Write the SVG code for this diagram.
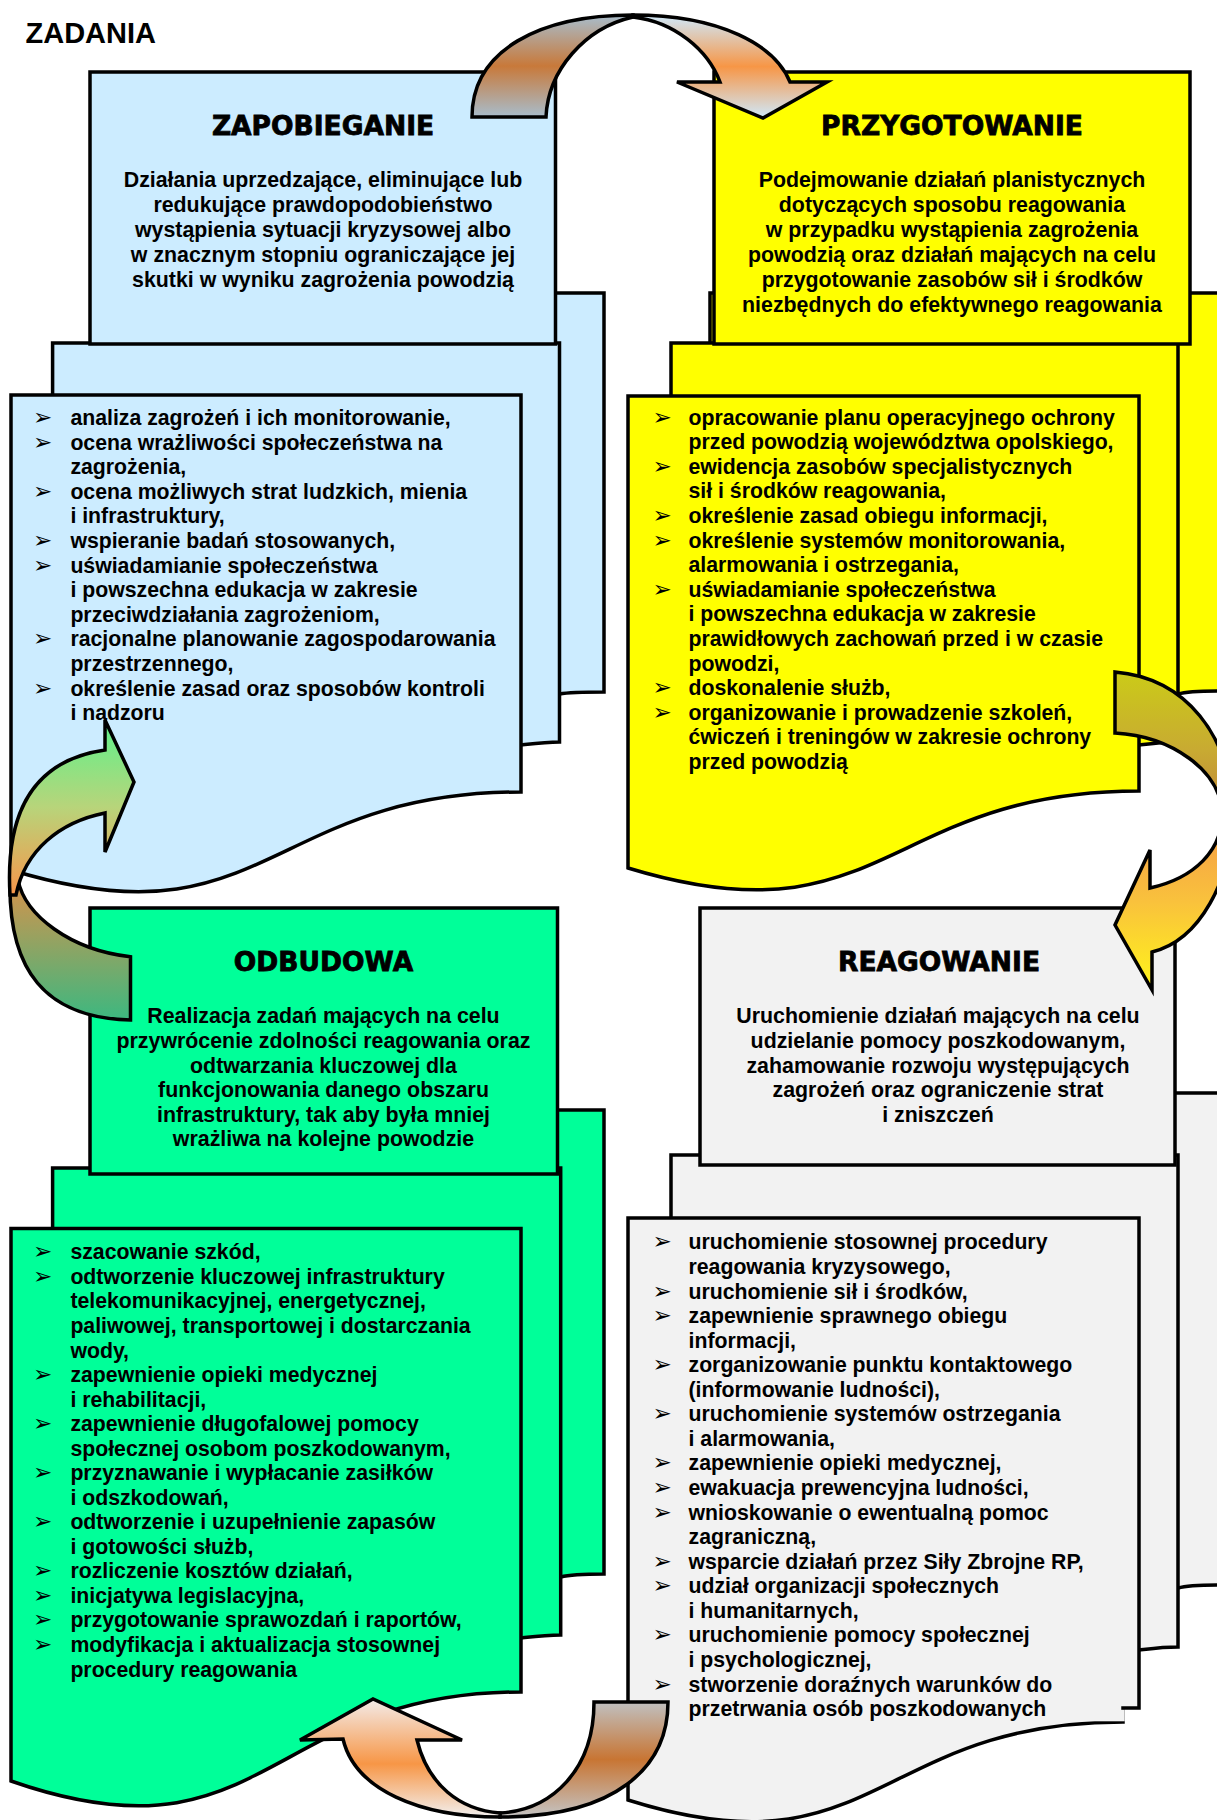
<svg xmlns="http://www.w3.org/2000/svg" width="1217" height="1820" viewBox="0 0 1217 1820">
<defs>
<style>
.pg{stroke:#000;stroke-width:3.5;stroke-linejoin:miter}
.blue{fill:#ccecff}.yel{fill:#ffff00}.grn{fill:#00ff99}.gry{fill:#f2f2f2}
.arr{stroke:#000;stroke-width:3.5;stroke-linejoin:miter}
.ttl{font-family:"DejaVu Sans",Verdana,sans-serif;font-weight:bold;font-size:26.5px;text-anchor:middle;fill:#000;stroke:#000;stroke-width:0.8px}
.dsc{font-family:"Liberation Sans",Arial,sans-serif;font-weight:bold;font-size:21.35px;text-anchor:middle;fill:#000}
.li{font-family:"Liberation Sans",Arial,sans-serif;font-weight:bold;font-size:21.25px;fill:#000}
.bul{font-family:"DejaVu Sans",sans-serif;font-size:23px;fill:#000}
.hd{font-family:"Liberation Sans",Arial,sans-serif;font-weight:bold;font-size:29px;fill:#000}
</style>
<linearGradient id="gTopL" x1="0" y1="0" x2="0" y2="1"><stop offset="0" stop-color="#a8bdcc"/><stop offset="0.5" stop-color="#c8793a"/><stop offset="1" stop-color="#a8bdcc"/></linearGradient>
<linearGradient id="gTopR" x1="0" y1="0" x2="0" y2="1"><stop offset="0" stop-color="#cfe9fb"/><stop offset="0.5" stop-color="#f79646"/><stop offset="1" stop-color="#cfe9fb"/></linearGradient>
<linearGradient id="gRU" x1="0" y1="0" x2="0" y2="1"><stop offset="0" stop-color="#cbcb18"/><stop offset="0.55" stop-color="#c8aa32"/><stop offset="1" stop-color="#c0843c"/></linearGradient>
<linearGradient id="gRL" x1="0" y1="0" x2="0" y2="1"><stop offset="0" stop-color="#f59a48"/><stop offset="0.5" stop-color="#f9c23c"/><stop offset="1" stop-color="#fff51a"/></linearGradient>
<linearGradient id="gBL" x1="0" y1="0" x2="0" y2="1"><stop offset="0" stop-color="#f3ebe9"/><stop offset="0.55" stop-color="#f79646"/><stop offset="1" stop-color="#f2f0ef"/></linearGradient>
<linearGradient id="gBR" x1="0" y1="0" x2="0" y2="1"><stop offset="0" stop-color="#c0c0c0"/><stop offset="0.5" stop-color="#c87533"/><stop offset="1" stop-color="#c4c4c4"/></linearGradient>
<linearGradient id="gLU" x1="0" y1="0" x2="0" y2="1"><stop offset="0" stop-color="#5df28c"/><stop offset="0.5" stop-color="#b8d47a"/><stop offset="1" stop-color="#f7964a"/></linearGradient>
<linearGradient id="gLL" x1="0" y1="0" x2="0" y2="1"><stop offset="0" stop-color="#d8924a"/><stop offset="1" stop-color="#3cb880"/></linearGradient>
</defs>
<rect width="1217" height="1820" fill="#fff"/>
<text class="hd" x="25.5" y="43">ZADANIA</text>

<g id="zapobieganie">
<path class="pg blue" d="M93,293 H604 V692 C585,692 565,693 559.5,694 H93 Z"/>
<path class="pg blue" d="M52.6,343 H559.5 V742 C545,742 530,744 521,745 H52.6 Z"/>
<path class="pg blue" d="M11,395 H521 V792 C266,792 266,948 11,870 Z"/>
<rect class="pg blue" x="90" y="72" width="465.5" height="272"/>
<text class="ttl" x="323" y="135">ZAPOBIEGANIE</text>
<text class="dsc"><tspan x="323" y="186.7">Działania uprzedzające, eliminujące lub</tspan><tspan x="323" y="211.7">redukujące prawdopodobieństwo</tspan><tspan x="323" y="236.7">wystąpienia sytuacji kryzysowej albo</tspan><tspan x="323" y="261.7">w znacznym stopniu ograniczające jej</tspan><tspan x="323" y="286.7">skutki w wyniku zagrożenia powodzią</tspan></text>
<text class="bul"><tspan x="33" y="425">➢</tspan><tspan x="33" y="449.6">➢</tspan><tspan x="33" y="498.8">➢</tspan><tspan x="33" y="548">➢</tspan><tspan x="33" y="572.6">➢</tspan><tspan x="33" y="646.4">➢</tspan><tspan x="33" y="695.6">➢</tspan></text>
<text class="li"><tspan x="70.4" y="425">analiza zagrożeń i ich monitorowanie,</tspan><tspan x="70.4" y="449.6">ocena wrażliwości społeczeństwa na</tspan><tspan x="70.4" y="474.2">zagrożenia,</tspan><tspan x="70.4" y="498.8">ocena możliwych strat ludzkich, mienia</tspan><tspan x="70.4" y="523.4">i infrastruktury,</tspan><tspan x="70.4" y="548">wspieranie badań stosowanych,</tspan><tspan x="70.4" y="572.6">uświadamianie społeczeństwa</tspan><tspan x="70.4" y="597.2">i powszechna edukacja w zakresie</tspan><tspan x="70.4" y="621.8">przeciwdziałania zagrożeniom,</tspan><tspan x="70.4" y="646.4">racjonalne planowanie zagospodarowania</tspan><tspan x="70.4" y="671">przestrzennego,</tspan><tspan x="70.4" y="695.6">określenie zasad oraz sposobów kontroli</tspan><tspan x="70.4" y="720.2">i nadzoru</tspan></text>
</g>

<g id="przygotowanie">
<path class="pg yel" d="M710,293 H1221 V691 C1200,691 1185,692 1178,694 H710 Z"/>
<path class="pg yel" d="M671,343 H1178 V742 C1162,742 1148,744 1139,745 H671 Z"/>
<path class="pg yel" d="M628,396 H1139 V791 C884,791 884,946 628,868 Z"/>
<rect class="pg yel" x="714" y="72" width="476" height="272"/>
<text class="ttl" x="952" y="135">PRZYGOTOWANIE</text>
<text class="dsc"><tspan x="952" y="186.7">Podejmowanie działań planistycznych</tspan><tspan x="952" y="211.7">dotyczących sposobu reagowania</tspan><tspan x="952" y="236.7">w przypadku wystąpienia zagrożenia</tspan><tspan x="952" y="261.7">powodzią oraz działań mających na celu</tspan><tspan x="952" y="286.7">przygotowanie zasobów sił i środków</tspan><tspan x="952" y="311.7">niezbędnych do efektywnego reagowania</tspan></text>
<text class="bul"><tspan x="652.5" y="424.6">➢</tspan><tspan x="652.5" y="473.8">➢</tspan><tspan x="652.5" y="523">➢</tspan><tspan x="652.5" y="547.6">➢</tspan><tspan x="652.5" y="596.8">➢</tspan><tspan x="652.5" y="695.2">➢</tspan><tspan x="652.5" y="719.8">➢</tspan></text>
<text class="li"><tspan x="688.5" y="424.6">opracowanie planu operacyjnego ochrony</tspan><tspan x="688.5" y="449.2">przed powodzią województwa opolskiego,</tspan><tspan x="688.5" y="473.8">ewidencja zasobów specjalistycznych</tspan><tspan x="688.5" y="498.4">sił i środków reagowania,</tspan><tspan x="688.5" y="523">określenie zasad obiegu informacji,</tspan><tspan x="688.5" y="547.6">określenie systemów monitorowania,</tspan><tspan x="688.5" y="572.2">alarmowania i ostrzegania,</tspan><tspan x="688.5" y="596.8">uświadamianie społeczeństwa</tspan><tspan x="688.5" y="621.4">i powszechna edukacja w zakresie</tspan><tspan x="688.5" y="646">prawidłowych zachowań przed i w czasie</tspan><tspan x="688.5" y="670.6">powodzi,</tspan><tspan x="688.5" y="695.2">doskonalenie służb,</tspan><tspan x="688.5" y="719.8">organizowanie i prowadzenie szkoleń,</tspan><tspan x="688.5" y="744.4">ćwiczeń i treningów w zakresie ochrony</tspan><tspan x="688.5" y="769">przed powodzią</tspan></text>
</g>

<g id="odbudowa">
<path class="pg grn" d="M93,1110 H604 V1574 C585,1574 568,1575 560.7,1577 H93 Z"/>
<path class="pg grn" d="M52.6,1168 H560.7 V1635 C545,1635 530,1637 521,1638 H52.6 Z"/>
<path class="pg grn" d="M11,1228.5 H521 V1692 C266,1692 266,1870 11,1781 Z"/>
<rect class="pg grn" x="90" y="908" width="467.5" height="266"/>
<text class="ttl" x="323.5" y="971">ODBUDOWA</text>
<text class="dsc"><tspan x="323.5" y="1023.3">Realizacja zadań mających na celu</tspan><tspan x="323.5" y="1047.9">przywrócenie zdolności reagowania oraz</tspan><tspan x="323.5" y="1072.5">odtwarzania kluczowej dla</tspan><tspan x="323.5" y="1097.1">funkcjonowania danego obszaru</tspan><tspan x="323.5" y="1121.7">infrastruktury, tak aby była mniej</tspan><tspan x="323.5" y="1146.3">wrażliwa na kolejne powodzie</tspan></text>
<text class="bul"><tspan x="33" y="1259.3">➢</tspan><tspan x="33" y="1283.8">➢</tspan><tspan x="33" y="1382">➢</tspan><tspan x="33" y="1431.1">➢</tspan><tspan x="33" y="1480.2">➢</tspan><tspan x="33" y="1529.2">➢</tspan><tspan x="33" y="1578.3">➢</tspan><tspan x="33" y="1602.9">➢</tspan><tspan x="33" y="1627.4">➢</tspan><tspan x="33" y="1651.9">➢</tspan></text>
<text class="li"><tspan x="70.4" y="1259.3">szacowanie szkód,</tspan><tspan x="70.4" y="1283.8">odtworzenie kluczowej infrastruktury</tspan><tspan x="70.4" y="1308.4">telekomunikacyjnej, energetycznej,</tspan><tspan x="70.4" y="1332.9">paliwowej, transportowej i dostarczania</tspan><tspan x="70.4" y="1357.5">wody,</tspan><tspan x="70.4" y="1382">zapewnienie opieki medycznej</tspan><tspan x="70.4" y="1406.5">i rehabilitacji,</tspan><tspan x="70.4" y="1431.1">zapewnienie długofalowej pomocy</tspan><tspan x="70.4" y="1455.6">społecznej osobom poszkodowanym,</tspan><tspan x="70.4" y="1480.2">przyznawanie i wypłacanie zasiłków</tspan><tspan x="70.4" y="1504.7">i odszkodowań,</tspan><tspan x="70.4" y="1529.2">odtworzenie i uzupełnienie zapasów</tspan><tspan x="70.4" y="1553.8">i gotowości służb,</tspan><tspan x="70.4" y="1578.3">rozliczenie kosztów działań,</tspan><tspan x="70.4" y="1602.9">inicjatywa legislacyjna,</tspan><tspan x="70.4" y="1627.4">przygotowanie sprawozdań i raportów,</tspan><tspan x="70.4" y="1651.9">modyfikacja i aktualizacja stosownej</tspan><tspan x="70.4" y="1676.5">procedury reagowania</tspan></text>
</g>

<g id="reagowanie">
<path class="pg gry" d="M710,1093 H1221 V1585 C1200,1585 1185,1586 1178,1588 H710 Z"/>
<path class="pg gry" d="M671,1155 H1178 V1647 C1162,1647 1148,1649 1139,1650 H671 Z"/>
<path class="pg gry" d="M628,1218 H1139 V1708 H1123 V1722 C875,1722 875,1878 628,1800 Z"/>
<rect class="gry" x="686" y="1709.8" width="438.7" height="11.5"/>
<rect class="pg gry" x="700" y="908" width="475" height="257"/>
<text class="ttl" x="939" y="971">REAGOWANIE</text>
<text class="dsc"><tspan x="938" y="1023.3">Uruchomienie działań mających na celu</tspan><tspan x="938" y="1047.9">udzielanie pomocy poszkodowanym,</tspan><tspan x="938" y="1072.5">zahamowanie rozwoju występujących</tspan><tspan x="938" y="1097.1">zagrożeń oraz ograniczenie strat</tspan><tspan x="938" y="1121.7">i zniszczeń</tspan></text>
<text class="bul"><tspan x="652.5" y="1249.4">➢</tspan><tspan x="652.5" y="1298.5">➢</tspan><tspan x="652.5" y="1323.1">➢</tspan><tspan x="652.5" y="1372.2">➢</tspan><tspan x="652.5" y="1421.3">➢</tspan><tspan x="652.5" y="1470.4">➢</tspan><tspan x="652.5" y="1495">➢</tspan><tspan x="652.5" y="1519.6">➢</tspan><tspan x="652.5" y="1568.7">➢</tspan><tspan x="652.5" y="1593.2">➢</tspan><tspan x="652.5" y="1642.4">➢</tspan><tspan x="652.5" y="1691.5">➢</tspan></text>
<text class="li"><tspan x="688.5" y="1249.4">uruchomienie stosownej procedury</tspan><tspan x="688.5" y="1274">reagowania kryzysowego,</tspan><tspan x="688.5" y="1298.5">uruchomienie sił i środków,</tspan><tspan x="688.5" y="1323.1">zapewnienie sprawnego obiegu</tspan><tspan x="688.5" y="1347.6">informacji,</tspan><tspan x="688.5" y="1372.2">zorganizowanie punktu kontaktowego</tspan><tspan x="688.5" y="1396.8">(informowanie ludności),</tspan><tspan x="688.5" y="1421.3">uruchomienie systemów ostrzegania</tspan><tspan x="688.5" y="1445.9">i alarmowania,</tspan><tspan x="688.5" y="1470.4">zapewnienie opieki medycznej,</tspan><tspan x="688.5" y="1495">ewakuacja prewencyjna ludności,</tspan><tspan x="688.5" y="1519.6">wnioskowanie o ewentualną pomoc</tspan><tspan x="688.5" y="1544.1">zagraniczną,</tspan><tspan x="688.5" y="1568.7">wsparcie działań przez Siły Zbrojne RP,</tspan><tspan x="688.5" y="1593.2">udział organizacji społecznych</tspan><tspan x="688.5" y="1617.8">i humanitarnych,</tspan><tspan x="688.5" y="1642.4">uruchomienie pomocy społecznej</tspan><tspan x="688.5" y="1666.9">i psychologicznej,</tspan><tspan x="688.5" y="1691.5">stworzenie doraźnych warunków do</tspan><tspan x="688.5" y="1716">przetrwania osób poszkodowanych</tspan></text>
</g>

<g id="connectors">
<g id="arrow-top">
<path class="arr" fill="url(#gTopL)" d="M633,15 C540,15 472,50 472,117 L546,117 C548,70 585,28 633,17 Z"/>
<path class="arr" fill="url(#gTopR)" d="M633,15 C720,15 775,45 790,82 L827,82 L763,118 L677,82 L720,82 C708,50 675,22 633,17 Z"/>
</g>
<g id="arrow-right">
<path class="arr" fill="url(#gRU)" d="M1115,672 C1185,678 1232,735 1232,815 L1222,815 C1222,770 1170,736 1115,733 Z"/>
<path class="arr" fill="url(#gRL)" d="M1232,815 C1232,880 1200,940 1152,952 L1152,990 L1115,925 L1150,850 L1150,888 C1195,878 1222,850 1222,815 Z"/>
</g>
<g id="arrow-bottom">
<path class="arr" fill="url(#gBR)" d="M594,1702 L668,1702 C668,1768 615,1817 500,1817 L500,1813 C552,1810 594,1770 594,1702 Z"/>
<path class="arr" fill="url(#gBL)" d="M300,1740 L373,1699 L462,1740 L417,1740 C428,1785 460,1810 500,1813 L500,1817 C420,1817 355,1790 343,1739 Z"/>
</g>
<g id="arrow-left">
<path class="arr" fill="url(#gLL)" d="M10,880 C8,970 45,1018 130.5,1020 L130.5,956.7 C70,950 25,915 18,880 Z"/>
<path class="arr" fill="url(#gLU)" d="M10,895 C5,810 35,760 105,750 L105,720 L134,782 L105,852 L105,813 C60,822 25,850 16,895 Z"/>
</g>
</g>
</svg>
